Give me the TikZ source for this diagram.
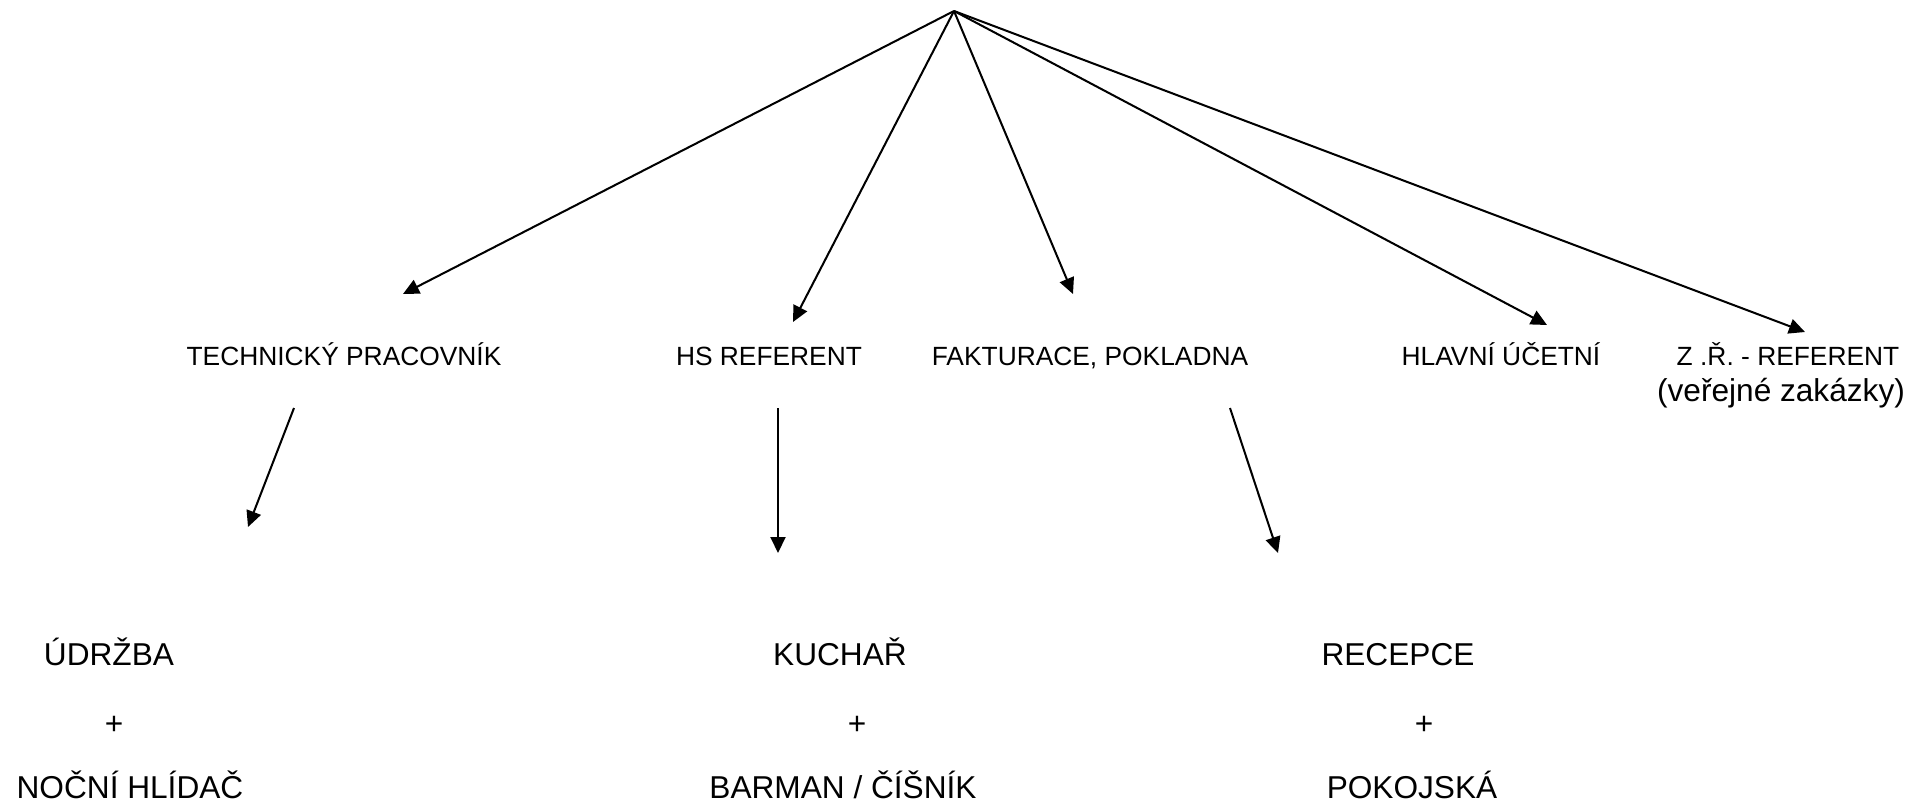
\documentclass[tikz,border=0pt]{standalone}
\usepackage{fontspec}
\setmainfont{Liberation Sans}
\usetikzlibrary{arrows.meta}
\tikzset{
  role/.style={anchor=base, inner sep=0pt, font=\fontsize{15}{18}\selectfont},
  unit/.style={anchor=base, inner sep=0pt, font=\fontsize{18}{22}\selectfont},
  link/.style={-{Triangle[length=0.32cm,width=0.3cm]}, line width=1.15pt}
}
\begin{document}
\begin{tikzpicture}[x=0.02cm, y=-0.02cm]
    \useasboundingbox (0,0) rectangle (1928,805);
    \coordinate (top) at (954,11);
    % first level
    \node [role] (tech) at (344,365) {TECHNICKÝ PRACOVNÍK};
    \node [role] (hs) at (769,365) {HS REFERENT};
    \node [role] (fakt) at (1090,365) {FAKTURACE, POKLADNA};
    \node [role] (ucet) at (1501,365) {HLAVNÍ ÚČETNÍ};
    \node [role] (zr) at (1788,365) {Z .Ř. - REFERENT};
    \node [unit] (zakazky) at (1781,401) {(veřejné zakázky)};
    \coordinate (techin) at (403,294);
    \coordinate (hsin) at (793,322);
    \coordinate (faktin) at (1073,294);
    \coordinate (ucetin) at (1547,325);
    \coordinate (zrin) at (1805,332);
    \foreach \t in {techin,hsin,faktin,ucetin,zrin}
        \draw [link] (top) -- (\t);
    % second level
    \node [unit] (udrzba) at (109,665) {ÚDRŽBA};
    \node [unit] (plusa) at (114,734) {+};
    \node [unit] (hlidac) at (130,798) {NOČNÍ HLÍDAČ};
    \node [unit] (kuchar) at (840,665) {KUCHAŘ};
    \node [unit] (plusb) at (857,734) {+};
    \node [unit] (barman) at (843,798) {BARMAN / ČÍŠNÍK};
    \node [unit] (recepce) at (1398,665) {RECEPCE};
    \node [unit] (plusc) at (1424,734) {+};
    \node [unit] (pokojska) at (1412,798) {POKOJSKÁ};
    \coordinate (techout) at (294,408);
    \coordinate (hsout) at (778,408);
    \coordinate (faktout) at (1230,408);
    \coordinate (udrzbain) at (248,527);
    \coordinate (kucharin) at (778,553);
    \coordinate (recepcein) at (1278,553);
    \draw [link] (techout) -- (udrzbain);
    \draw [link] (hsout) -- (kucharin);
    \draw [link] (faktout) -- (recepcein);
\end{tikzpicture}
\end{document}
